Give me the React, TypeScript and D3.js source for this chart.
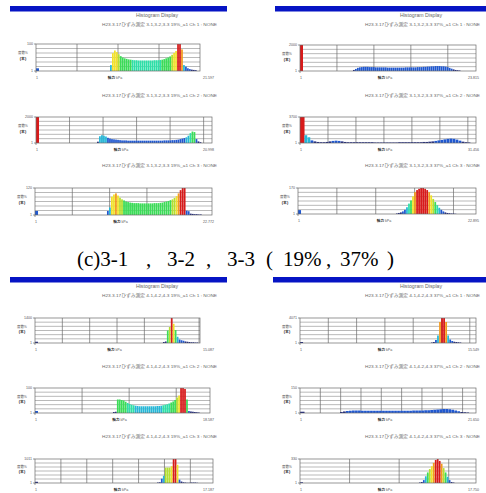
import * as d3 from "d3";

// chart order: TL (3-* 19%) Ch1..3, TR (3-* 37%) Ch1..3, BL (4-* 19%) Ch1..3, BR (4-* 37%) Ch1..3
const groupTags = ["3-1,3-2,3-3 19%", "3-1,3-2,3-3 37%", "4-1,4-2,4-3 19%", "4-1,4-2,4-3 37%"];
const channelNames = ["Ch 1", "Ch 2", "Ch 3"];
const captionParts = ["(c)3-1", ",", "3-2", ",", "3-3", "(", "19%", ",", "37%", ")"];

const yTopLabels = ["100", "2000", "120", "2000", "3700", "170", "1400", "100", "1011", "4071", "150", "330"];
const xMaxValues = [21.597, 20.998, 22.772, 23.815, 31.456, 22.895, 15.087, 18.587, 17.187, 15.549, 21.65, 17.75];
const xMaxLabels = ["21.597", "20.998", "22.772", "23.815", "31.456", "22.895", "15.087", "18.587", "17.187", "15.549", "21.650", "17.750"];
const gridSteps = [5.4, 4, 4.8, 5, 5, 5, 2.5, 5, 2.5, 2.5, 2.5, 5];
const binStarts = [9.75, 7.28, 9.26, 7.17, 0.8, 12.6, 11.7, 8.28, 11.78, 11.57, 4.92, 12.0];
const binWidths = [0.26, 0.24, 0.26, 0.27, 0.54, 0.26, 0.18, 0.21, 0.19, 0.18, 0.37, 0.2];
const edgeCounts = [10, 100, 15, 100, 100, 15, 5, 8, 5, 4, 5, 3];

// bar heights, % of the top label
const tl1 = [22, 66, 76, 70, 62, 55, 50, 47, 45, 43, 42, 41, 40, 40, 39, 39, 39, 39, 39, 39, 39, 39, 40, 40, 40, 41, 42, 44, 47, 50, 54, 60, 67, 74, 100, 100, 80, 22, 16, 10, 7, 5, 4, 3];
const tl2 = [5, 26, 30, 28, 25, 20, 17, 15, 14, 13, 12, 11, 10, 10, 10, 9, 9, 9, 9, 9, 9, 9, 9, 9, 9, 9, 9, 9, 9, 9, 9, 9, 9, 10, 10, 10, 10, 11, 11, 12, 13, 15, 17, 19, 22, 28, 38, 44, 42, 15, 6, 3];
const tl3 = [15, 28, 68, 76, 80, 72, 64, 58, 54, 50, 48, 46, 45, 44, 44, 44, 43, 43, 43, 43, 43, 43, 43, 44, 44, 44, 45, 46, 48, 50, 52, 55, 58, 63, 70, 80, 92, 100, 100, 16, 14, 5, 4, 3, 3, 2, 2];
const tr1 = [4, 8, 12, 14, 15, 16, 16, 16, 15, 15, 15, 14, 14, 14, 14, 14, 14, 13, 13, 13, 13, 13, 13, 13, 13, 13, 14, 14, 14, 14, 14, 14, 15, 15, 15, 16, 16, 17, 17, 18, 18, 19, 19, 19, 18, 18, 17, 15, 12, 9, 6, 4, 3, 2];
const tr2 = [30, 22, 10, 6, 4, 3, 3, 4, 6, 8, 9, 8, 6, 4, 3, 3, 3, 3, 3, 3, 3, 3, 3, 2, 2, 2, 2, 2, 2, 2, 2, 3, 3, 3, 3, 3, 3, 3, 3, 4, 4, 5, 6, 8, 10, 12, 14, 16, 17, 16, 13, 9, 5, 3, 2];
const tr3 = [2, 4, 6, 10, 16, 26, 40, 52, 68, 84, 92, 97, 100, 100, 97, 92, 84, 72, 58, 46, 34, 24, 16, 10, 6, 4, 3, 2, 2, 1];
const bl1 = [4, 6, 50, 64, 100, 77, 52, 25, 14, 11, 9, 6, 5, 4, 3, 3, 2, 2];
const bl2 = [4, 5, 54, 54, 52, 50, 45, 40, 36, 33, 31, 29, 28, 27, 27, 27, 27, 27, 27, 27, 27, 27, 28, 28, 29, 31, 33, 35, 38, 42, 46, 52, 62, 70, 100, 100, 96, 54, 8, 6, 5, 4, 3, 2];
const bl3 = [2, 3, 18, 30, 64, 64, 64, 70, 100, 100, 76, 14, 6, 3, 2, 1, 1, 2, 2, 2, 1];
const br1 = [2, 4, 12, 30, 84, 100, 100, 84, 30, 14, 8, 5, 4, 3, 2];
const br2 = [4, 6, 8, 9, 10, 10, 10, 9, 9, 9, 9, 9, 9, 9, 9, 9, 9, 9, 9, 9, 9, 9, 9, 9, 10, 10, 10, 10, 11, 11, 12, 13, 14, 15, 16, 16, 15, 13, 10, 7, 4, 3, 2];
const br3 = [2, 4, 12, 28, 44, 58, 70, 84, 96, 100, 92, 80, 62, 44, 26, 12, 4, 2];
const countSeries = [tl1, tl2, tl3, tr1, tr2, tr3, bl1, bl2, bl3, br1, br2, br3];

// layout (px): plot box per chart [left, right, top, bottom]
const plotFrames = [
  [36, 200, 44, 71], [36, 212, 117, 143], [35, 212, 188, 215],
  [300, 476, 45, 71], [300, 476, 117, 143], [298, 476, 188, 214],
  [35, 200, 318, 343], [35, 210, 388, 413], [35, 213, 459, 483],
  [300, 476, 318, 343], [300, 476, 388, 413], [300, 476, 459, 483],
];
const headerBars = [[10, 6, 217], [275, 6, 211], [10, 277, 217], [273, 277, 213]];
const titleY = [17, 17, 288, 288];
const subtitleY = [[25.5, 97, 167], [25.5, 97, 167], [297, 368, 438], [297, 368, 438]];
const captionX = [77, 146, 167, 206, 227, 266, 283, 326, 340, 387];

const color = d3.scaleThreshold<number, string>()
  .domain([7, 21, 31, 42, 56, 66, 79, 90])
  .range(["#111c7c", "#2058d0", "#26b8d8", "#2ee0a8", "#3cdc58", "#b4e030", "#f2e22a", "#f29a1c", "#d81a1a"]);

const smallFont = "'Liberation Sans', 'Noto Sans CJK JP', sans-serif";

function Histogram({ idx }: { idx: number }) {
  const [left, right, top, bottom] = plotFrames[idx];
  const panelRight = idx < 3 || (idx >= 6 && idx < 9) ? 214 : 479;
  const xs = d3.scaleLinear().domain([0, xMaxValues[idx]]).range([left, right]);
  const ys = d3.scaleLinear().domain([0, 100]).range([bottom, top]);
  const step = gridSteps[idx];
  const vGrid = d3.range(step, xMaxValues[idx] - 0.05, step);
  const hGrid = d3.range(1, 6).map((k) => (k * 100) / 6);
  const w = binWidths[idx];
  const bw = xs(w) - xs(0);
  const counts = countSeries[idx];

  return (
    <g>
      <rect x={left} y={top} width={right - left} height={bottom - top} fill="#fff" />
      {hGrid.map((v) => (
        <line key={"h" + v} x1={left} x2={right} y1={ys(v)} y2={ys(v)} stroke="#8a8a8a" strokeWidth={0.6} />
      ))}
      {vGrid.map((v) => (
        <line key={"v" + v} x1={xs(v)} x2={xs(v)} y1={top} y2={bottom} stroke="#6a6a6a" strokeWidth={0.7} />
      ))}
      <rect
        x={xs(0)}
        y={ys(edgeCounts[idx])}
        width={bw * 1.5}
        height={ys(0) - ys(edgeCounts[idx])}
        fill={color(edgeCounts[idx])}
      />
      {counts.map((c, i) => (
        <rect
          key={i}
          x={xs(binStarts[idx] + i * w)}
          y={ys(c)}
          width={Math.max(0.6, bw - 0.25)}
          height={ys(0) - ys(c)}
          fill={color(c)}
        />
      ))}
      <rect x={left} y={top} width={right - left} height={bottom - top} fill="none" stroke="#6a6a6a" strokeWidth={0.7} />
      <line x1={left - 2} x2={left} y1={top} y2={top} stroke="#555" strokeWidth={0.6} />
      <line x1={left - 2} x2={left} y1={bottom} y2={bottom} stroke="#555" strokeWidth={0.6} />
      <line x1={left} x2={left} y1={bottom} y2={bottom + 2} stroke="#555" strokeWidth={0.6} />
      <g fontFamily={smallFont} fill="#555" fontSize={3.6}>
        <text x={left - 3} y={top + 1.3} textAnchor="end">{yTopLabels[idx]}</text>
        <text x={left - 3} y={bottom + 1.3} textAnchor="end">1</text>
        <text x={left - 13} y={top + (bottom - top) * 0.38} textAnchor="middle" fontSize={3.4}>度数%</text>
        <text x={left - 13} y={top + (bottom - top) * 0.6} textAnchor="middle" fontSize={3.8} fontWeight="bold" fill="#222">(本)</text>
        <text x={left + 1} y={bottom + 7.5} textAnchor="middle">1</text>
        <text x={(left + right) / 2 - 3} y={bottom + 7.5} textAnchor="middle">
          <tspan fontWeight="bold" fill="#222">軸力</tspan> kPa
        </text>
        <text x={panelRight} y={bottom + 7.5} textAnchor="end">{xMaxLabels[idx]}</text>
      </g>
    </g>
  );
}

export default function App() {
  return (
    <svg
      width={486}
      height={493}
      viewBox="0 0 486 493"
      style={{ position: "absolute", left: 0, top: 0, background: "#fff" }}
    >
      {headerBars.map(([x, y, w], g) => (
        <g key={"g" + g}>
          <rect x={x} y={y} width={w} height={5.5} fill="#0614c4" />
          <text
            x={g % 2 === 0 ? 157 : 421}
            y={titleY[g]}
            textAnchor="middle"
            fontFamily={smallFont}
            fontSize={5.2}
            fill="#666"
          >
            Histogram Display
          </text>
          {channelNames.map((ch, c) => (
            <text
              key={ch}
              x={g % 2 === 0 ? 217 : 480}
              y={subtitleY[g][c]}
              textAnchor="end"
              fontFamily={smallFont}
              fontSize={4.3}
              fill="#666"
              textLength={115}
              lengthAdjust="spacingAndGlyphs"
            >
              {`H23.3.17ひずみ測定  ${groupTags[g]}_a1 ${ch} : NONE`}
            </text>
          ))}
        </g>
      ))}
      {countSeries.map((_, i) => (
        <Histogram key={i} idx={i} />
      ))}
      <text fontFamily="'Liberation Serif', 'Times New Roman', serif" fontSize={21} fill="#000" y={266}>
        {captionParts.map((p, i) => (
          <tspan key={i} x={captionX[i]}>{p}</tspan>
        ))}
      </text>
    </svg>
  );
}
